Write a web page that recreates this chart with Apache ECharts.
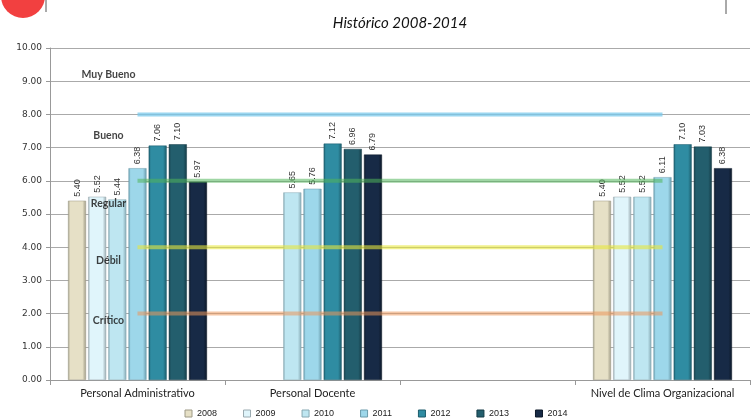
<!DOCTYPE html>
<html><head><meta charset="utf-8">
<script src="https://cdn.jsdelivr.net/npm/echarts@6/dist/echarts.min.js"></script>
<style>html,body{margin:0;padding:0;background:#fff}#c{width:752px;height:418px}</style>
</head><body><div id="c"></div>
<script>
const categories = ['Personal Administrativo', 'Personal Docente', '', 'Nivel de Clima Organizacional'];
const years = ['2008', '2009', '2010', '2011', '2012', '2013', '2014'];
const v2008 = [5.40, null, null, 5.40];
const v2009 = [5.52, null, null, 5.52];
const v2010 = [5.44, 5.65, null, 5.52];
const v2011 = [6.38, 5.76, null, 6.11];
const v2012 = [7.06, 7.12, null, 7.10];
const v2013 = [7.10, 6.96, null, 7.03];
const v2014 = [5.97, 6.79, null, 6.38];
const bandLevels = [8, 6, 4, 2];
const bandNames = ['Muy Bueno', 'Bueno', 'Regular', 'Débil', 'Crítico'];
const bandLabelValues = [9.2, 7.35, 5.3, 3.6, 1.8];

const yearValues = [v2008, v2009, v2010, v2011, v2012, v2013, v2014];
const barColors = ['#E6E0C6', '#E0F5FB', '#BEE6F1', '#9DD7EA', '#2F8CA2', '#235E6D', '#172A46'];
const edgeColors = ['#9E9A86', '#9AAAB0', '#86A8B2', '#6A9BAB', '#1C5B6A', '#143B46', '#0C1828'];
const bandColors = ['rgba(120,200,235,0.75)', 'rgba(80,180,90,0.55)', 'rgba(230,230,60,0.6)', 'rgba(235,150,90,0.55)'];

function grad(c, e) {
  return new echarts.graphic.LinearGradient(0, 0, 1, 0, [
    {offset: 0, color: e}, {offset: 0.12, color: c}, {offset: 0.8, color: c}, {offset: 1, color: e}
  ]);
}

const series = [];
years.forEach((y, i) => {
  series.push({
    name: y, type: 'bar', data: yearValues[i], barWidth: 18, barGap: '12%',
    itemStyle: {color: grad(barColors[i], edgeColors[i]), borderColor: edgeColors[i], borderWidth: 0.5},
    label: {show: true, position: 'top', rotate: 90, align: 'left', verticalAlign: 'middle', distance: 4,
      formatter: p => p.value == null ? '' : p.value.toFixed(2), fontSize: 9, color: '#333', fontFamily: 'Liberation Sans'},
    z: 2
  });
});
bandLevels.forEach((lv, i) => {
  series.push({
    name: 'band' + i, type: 'line', data: categories.map(() => lv), symbol: 'none',
    lineStyle: {color: bandColors[i], width: 4}, silent: true, z: 5, animation: false
  });
});
series.push({
  name: 'bandLabels', type: 'scatter', data: bandLabelValues.map(v => [0, v]), symbolSize: 0,
  label: {show: true, position: 'inside', offset: [-29, 0], formatter: p => bandNames[p.dataIndex],
    fontSize: 10.5, fontWeight: 'bold', color: '#111', fontFamily: 'Lato'}, z: 6, silent: true
});

const chart = echarts.init(document.getElementById('c'));
chart.setOption({
  animation: false,
  title: {text: 'Histórico 2008-2014', left: 395, top: 11, textAlign: 'center',
    textStyle: {fontSize: 15, fontStyle: 'italic', fontWeight: 'normal', color: '#111', fontFamily: 'Lato'}},
  graphic: [
    {type: 'circle', shape: {cx: 23, cy: -4, r: 22}, style: {fill: '#F24040'}},
    {type: 'line', shape: {x1: 46, y1: 0, x2: 46, y2: 12}, style: {stroke: '#555', lineWidth: 1}},
    {type: 'line', shape: {x1: 726, y1: 0, x2: 726, y2: 14}, style: {stroke: '#555', lineWidth: 1}}
  ],
  legend: {data: years.map((y, i) => ({name: y, itemStyle: {color: barColors[i], borderColor: edgeColors[i], borderWidth: 1}})),
    top: 404, left: 'center', itemWidth: 7, itemHeight: 7, itemGap: 26, icon: 'rect',
    textStyle: {fontSize: 9, color: '#222', fontFamily: 'Liberation Sans'}},
  grid: {left: 50, right: 2, top: 48, bottom: 38},
  xAxis: {type: 'category', data: categories,
    axisLine: {lineStyle: {color: '#999'}}, axisTick: {show: true, length: 5, lineStyle: {color: '#999'}},
    axisLabel: {interval: 0, fontSize: 11, color: '#222', fontFamily: 'Lato', margin: 8}},
  yAxis: {type: 'value', min: 0, max: 10, interval: 1,
    axisLine: {show: true, lineStyle: {color: '#999'}}, axisTick: {show: true, length: 4, lineStyle: {color: '#999'}},
    axisLabel: {formatter: v => v.toFixed(2), fontSize: 9, color: '#333', fontFamily: 'DejaVu Sans', margin: 8},
    splitLine: {lineStyle: {color: '#aaa'}}},
  series: series
});
</script></body></html>
